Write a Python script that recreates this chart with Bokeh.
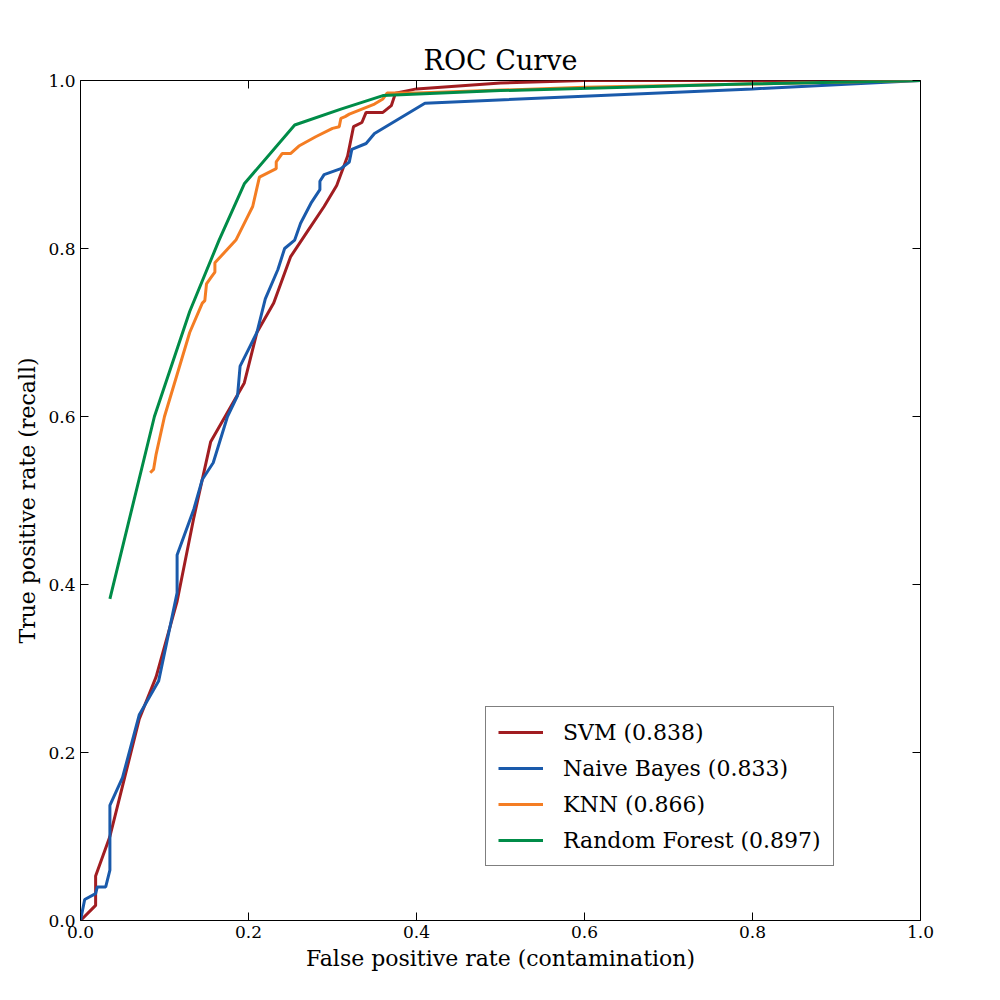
from bokeh.plotting import figure
from bokeh.models import LinearAxis, FixedTicker, NumeralTickFormatter, Legend, LegendItem, Range1d
from bokeh.embed import file_html
from bokeh.resources import INLINE

svm_x = [0,0.018,0.018,0.035,0.05,0.07,0.09,0.115,0.135,0.155,0.195,0.21,0.23,0.25,0.27,0.29,0.305,0.318,0.325,0.335,0.34,0.36,0.37,0.375,0.4,0.5,0.6,1]
svm_y = [0,0.018,0.053,0.1,0.16,0.24,0.29,0.38,0.48,0.57,0.64,0.70,0.735,0.79,0.82,0.85,0.875,0.91,0.945,0.95,0.962,0.962,0.97,0.985,0.99,0.997,1.0,1]
nb_x = [0,0.005,0.018,0.02,0.03,0.035,0.035,0.05,0.07,0.093,0.115,0.115,0.135,0.145,0.158,0.175,0.187,0.19,0.2,0.21,0.22,0.235,0.243,0.255,0.262,0.275,0.285,0.285,0.29,0.31,0.32,0.323,0.34,0.35,0.41,0.8,1]
nb_y = [0,0.025,0.032,0.04,0.04,0.06,0.137,0.17,0.245,0.285,0.39,0.435,0.49,0.525,0.545,0.6,0.625,0.66,0.68,0.70,0.74,0.775,0.8,0.81,0.83,0.855,0.87,0.88,0.888,0.895,0.903,0.918,0.925,0.937,0.973,0.99,1]
knn_x = [0.083,0.087,0.09,0.1,0.115,0.13,0.145,0.148,0.15,0.155,0.16,0.16,0.185,0.2,0.205,0.213,0.233,0.233,0.24,0.25,0.26,0.28,0.3,0.308,0.31,0.315,0.32,0.35,0.36,0.365,0.4,0.6,1]
knn_y = [0.533,0.537,0.555,0.6,0.65,0.70,0.735,0.738,0.758,0.765,0.772,0.783,0.81,0.84,0.85,0.885,0.895,0.903,0.913,0.913,0.922,0.933,0.943,0.945,0.955,0.957,0.96,0.972,0.978,0.985,0.985,0.992,1]
rf_x = [0.035,0.088,0.13,0.165,0.195,0.255,0.31,0.36,0.5,0.8,1]
rf_y = [0.383,0.6,0.725,0.81,0.877,0.947,0.966,0.982,0.988,0.996,1]
names = ["SVM (0.838)", "Naive Bayes (0.833)", "KNN (0.866)", "Random Forest (0.897)"]
colors = ["#A11D21", "#1A5AAB", "#F47D23", "#008C48"]
ticks = [0, 0.2, 0.4, 0.6, 0.8, 1.0]

FONT = "DejaVu Serif"
p = figure(frame_width=840, frame_height=840, output_backend="svg", toolbar_location=None,
           x_range=Range1d(0, 1), y_range=Range1d(0, 1), title="ROC Curve",
           min_border_left=80, min_border_right=72, min_border_top=80, min_border_bottom=72)
p.title.align = "center"
p.title.text_font = FONT
p.title.text_font_size = "27px"
p.title.text_font_style = "normal"
p.title.text_color = "black"
p.grid.visible = False
p.outline_line_color = "black"
p.xaxis.axis_label = "False positive rate (contamination)"
p.yaxis.axis_label = "True positive rate (recall)"
for a in [p.xaxis[0], p.yaxis[0]]:
    a.ticker = FixedTicker(ticks=ticks)
    a.formatter = NumeralTickFormatter(format="0.0")
    a.axis_label_text_font = FONT
    a.axis_label_text_font_size = "22px"
    a.axis_label_text_font_style = "normal"
    a.axis_label_text_color = "black"
    a.major_label_text_font = FONT
    a.major_label_text_font_size = "17px"
    a.major_label_text_color = "black"
    a.major_tick_in = 8
    a.major_tick_out = 0
    a.minor_tick_line_color = None
    a.axis_line_color = None
for loc in ["right", "above"]:
    ax = LinearAxis(ticker=FixedTicker(ticks=ticks), major_label_overrides={t: "" for t in ticks},
                    major_tick_in=8, major_tick_out=0, minor_tick_line_color=None, axis_line_color=None)
    p.add_layout(ax, loc)

items = []
for xs, ys, n, c in zip([svm_x, nb_x, knn_x, rf_x], [svm_y, nb_y, knn_y, rf_y], names, colors):
    r = p.line(xs, ys, line_color=c, line_width=3)
    items.append(LegendItem(label=n, renderers=[r]))
leg = Legend(items=items, location=(405, 54), label_text_font=FONT, label_text_font_size="22px",
             label_text_color="black", border_line_color="black", border_line_width=1,
             glyph_width=45, glyph_height=26, label_standoff=20, label_height=26,
             padding=12, spacing=10, background_fill_alpha=1)
p.add_layout(leg, "center")

open("out.html", "w").write(file_html(p, INLINE))
